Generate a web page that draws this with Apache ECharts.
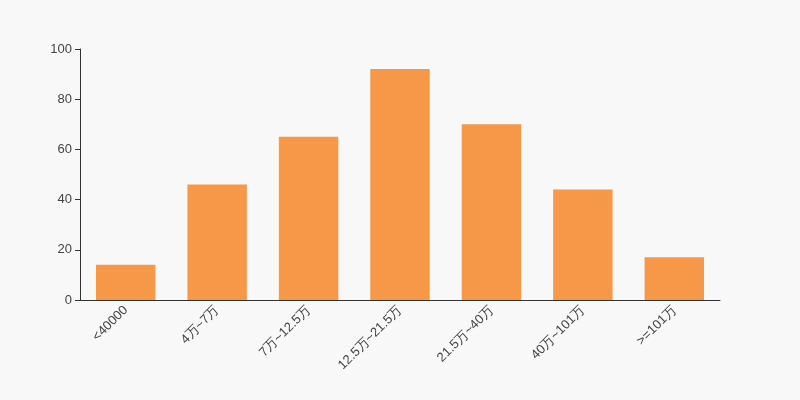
<!DOCTYPE html>
<html><head><meta charset="utf-8">
<script src="https://cdn.jsdelivr.net/npm/echarts@6/dist/echarts.min.js"></script>
<style>html,body{margin:0;padding:0;background:#f8f8f8}#c{width:800px;height:400px}</style>
</head><body><div id="c"></div>
<script>
var categories = ['<40000','4万~7万','7万~12.5万','12.5万~21.5万','21.5万~40万','40万~101万','>=101万'];
var values = [14,46,65,92,70,44,17];
var chart = echarts.init(document.getElementById('c'));
chart.setOption({
  backgroundColor:'#f8f8f8',
  animation:false,
  grid:{left:80,right:80,top:49,bottom:100},
  xAxis:{type:'category',data:categories,
    axisLine:{lineStyle:{color:'#333'}},
    axisTick:{lineStyle:{color:'#333'}},
    axisLabel:{rotate:45,color:'#444',fontSize:13,interval:0}},
  yAxis:{type:'value',min:0,max:100,interval:20,
    axisLine:{show:true,lineStyle:{color:'#333'}},
    axisTick:{show:true,lineStyle:{color:'#333'}},
    splitLine:{show:false},
    axisLabel:{color:'#444',fontSize:13}},
  series:[{type:'bar',data:values,barWidth:'65%',itemStyle:{color:'#f79848'}}]
});
</script></body></html>
